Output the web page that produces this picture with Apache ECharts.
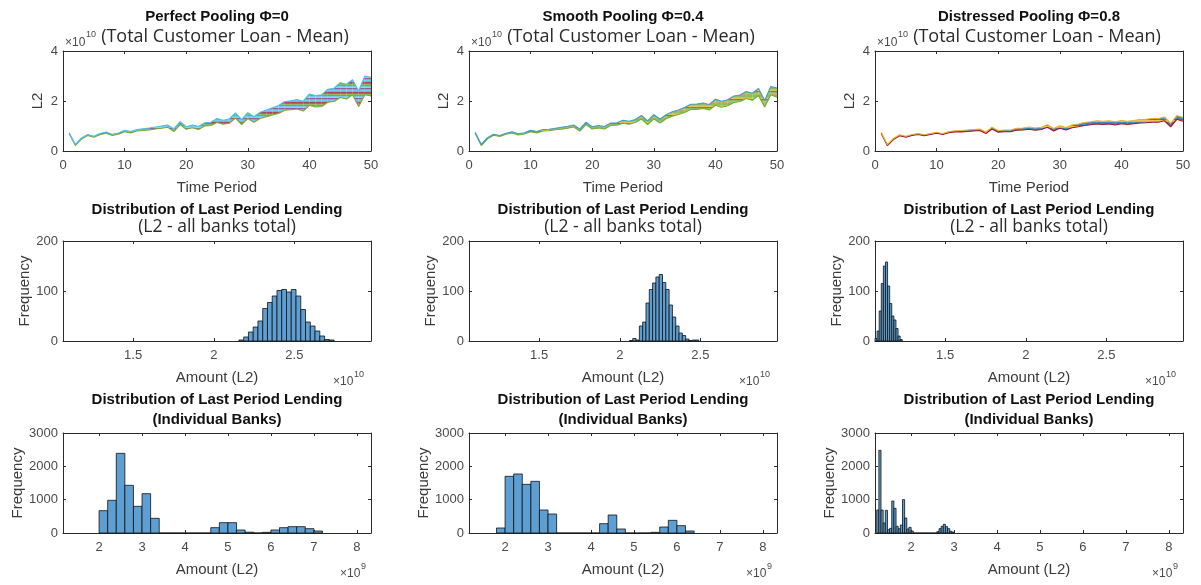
<!DOCTYPE html>
<html>
<head>
<meta charset="utf-8">
<script src="https://cdn.jsdelivr.net/npm/echarts@6/dist/echarts.min.js"></script>
<style>
  html, body { margin: 0; background: #fff; }
  #chart { width: 1201px; height: 585px; }
</style>
</head>
<body>
<div id="chart"></div>
<script>
// time periods of the simulation
const periods = [1, 2, 3, 4, 5, 6, 7, 8, 9, 10, 11, 12, 13, 14, 15, 16, 17, 18, 19, 20,
  21, 22, 23, 24, 25, 26, 27, 28, 29, 30, 31, 32, 33, 34, 35, 36, 37, 38, 39, 40,
  41, 42, 43, 44, 45, 46, 47, 48, 49, 50];

// upper / lower edge of the bundle of simulated paths (x 1e10)
const perfectUpper = [0.73, 0.26, 0.52, 0.66, 0.59, 0.70, 0.76, 0.67, 0.72, 0.83,
  0.78, 0.86, 0.89, 0.92, 0.96, 1.00, 1.04, 0.88, 1.17, 0.97,
  1.04, 0.98, 1.13, 1.15, 1.30, 1.23, 1.28, 1.52, 1.25, 1.53,
  1.37, 1.55, 1.64, 1.73, 1.82, 1.98, 2.01, 2.06, 1.99, 2.28,
  2.22, 2.25, 2.47, 2.51, 2.73, 2.67, 2.85, 2.40, 3.00, 2.95];
const perfectLower = [0.70, 0.22, 0.48, 0.62, 0.55, 0.65, 0.71, 0.62, 0.67, 0.77,
  0.72, 0.80, 0.82, 0.84, 0.88, 0.91, 0.95, 0.78, 1.06, 0.87,
  0.93, 0.86, 1.00, 1.02, 1.14, 1.07, 1.11, 1.32, 1.06, 1.30,
  1.15, 1.30, 1.37, 1.44, 1.50, 1.63, 1.65, 1.68, 1.60, 1.83,
  1.76, 1.78, 1.95, 1.98, 2.14, 2.08, 2.25, 1.78, 2.25, 2.20];
const smoothUpper = [0.75, 0.26, 0.53, 0.67, 0.62, 0.71, 0.77, 0.69, 0.73, 0.83,
  0.78, 0.86, 0.87, 0.91, 0.95, 0.99, 1.04, 0.88, 1.15, 0.97,
  1.02, 0.98, 1.12, 1.13, 1.23, 1.19, 1.26, 1.42, 1.20, 1.45,
  1.28, 1.45, 1.57, 1.64, 1.74, 1.87, 1.88, 1.92, 1.86, 2.07,
  1.99, 2.05, 2.20, 2.24, 2.38, 2.31, 2.50, 2.02, 2.58, 2.52];
const smoothLower = [0.71, 0.22, 0.49, 0.63, 0.58, 0.67, 0.72, 0.64, 0.68, 0.77,
  0.72, 0.80, 0.81, 0.85, 0.87, 0.91, 0.96, 0.80, 1.06, 0.88,
  0.92, 0.88, 1.02, 1.03, 1.11, 1.07, 1.14, 1.28, 1.06, 1.29,
  1.12, 1.29, 1.39, 1.46, 1.54, 1.66, 1.66, 1.70, 1.64, 1.83,
  1.75, 1.81, 1.94, 1.98, 2.10, 2.03, 2.22, 1.76, 2.25, 2.15];
const distressUpper = [0.75, 0.26, 0.50, 0.65, 0.59, 0.66, 0.70, 0.65, 0.70, 0.75,
  0.70, 0.78, 0.81, 0.82, 0.84, 0.86, 0.88, 0.76, 0.95, 0.82,
  0.84, 0.84, 0.91, 0.92, 0.96, 0.92, 0.95, 1.05, 0.90, 1.01,
  0.94, 1.04, 1.08, 1.14, 1.17, 1.21, 1.19, 1.21, 1.17, 1.22,
  1.19, 1.22, 1.26, 1.27, 1.30, 1.30, 1.36, 1.11, 1.42, 1.34];
const distressLower = [0.71, 0.22, 0.46, 0.61, 0.55, 0.62, 0.66, 0.61, 0.66, 0.71,
  0.66, 0.73, 0.76, 0.76, 0.78, 0.80, 0.82, 0.70, 0.88, 0.75,
  0.77, 0.77, 0.83, 0.84, 0.87, 0.83, 0.86, 0.95, 0.80, 0.91,
  0.84, 0.93, 0.97, 1.02, 1.05, 1.08, 1.06, 1.08, 1.04, 1.09,
  1.06, 1.09, 1.12, 1.13, 1.15, 1.15, 1.21, 0.97, 1.27, 1.19];

// last period lending, all banks total (x 1e10): first bin edge, bin width, counts
const totalBinStart = [2.156, 2.06, 1.065];
const totalBinWidth = [0.0295, 0.0205, 0.013];
const totalCountsPerfect = [2, 8, 18, 28, 40, 65, 77, 90, 101, 103, 98, 103, 90, 63, 38, 30, 20, 10, 3, 2];
const totalCountsSmooth = [1, 5, 2, 30, 38, 76, 103, 116, 128, 133, 117, 103, 72, 48, 30, 16, 11, 4, 1, 2, 2];
const totalCountsDistress = [5, 20, 60, 115, 150, 158, 110, 75, 50, 42, 25, 10, 3];

// last period lending, individual banks (x 1e9)
const bankBinStart = [2.0, 1.8, 1.2];
const bankBinWidth = [0.2, 0.2, 0.05];
const bankCountsPerfect = [670, 980, 2390, 1430, 800, 1180, 440, 0, 0, 0, 0, 0, 0,
  160, 310, 310, 90, 25, 0, 20, 90, 160, 190, 190, 130, 60];
const bankCountsSmooth = [150, 1700, 1770, 1460, 1550, 690, 570, 0, 0, 0, 0, 0,
  280, 540, 120, 0, 0, 0, 20, 180, 380, 220, 60];
const bankCountsDistress = [690, 2480, 690, 300, 680, 100, 140, 960, 740, 200, 130, 240,
  1000, 450, 120, 170, 60, 0, 0, 0, 0, 0, 0, 0, 0, 0, 0, 0,
  40, 130, 200, 260, 190, 130, 50, 25];

// tick labels
const timeTicks = [0, 10, 20, 30, 40, 50];
const totalTicks = [1.5, 2, 2.5];
const bankTicks = [2, 3, 4, 5, 6, 7, 8];

const titles = ['Perfect Pooling \u03A6=0', 'Smooth Pooling \u03A6=0.4', 'Distressed Pooling \u03A6=0.8'];

// ---------------------------------------------------------------
const chart = echarts.init(document.getElementById('chart'));

const colLeft = [63, 469, 875];
const rowTop = [51, 241, 433];
const plotW = 308;
const plotH = 100;
const axisColor = '#2b2b2b';
const tickColor = '#4a4a4a';
const font = 'Liberation Sans, Arial, sans-serif';
const subFont = '"Open Sans", sans-serif';

function stripes(colors) {
  const cv = document.createElement('canvas');
  cv.width = 4;
  cv.height = colors.length;
  const ctx = cv.getContext('2d');
  colors.forEach((c, i) => {
    ctx.fillStyle = c;
    ctx.fillRect(0, i, 4, 1);
  });
  return cv;
}

const grids = [];
const xAxes = [];
const yAxes = [];
const series = [];
const graphics = [];

function addPanel(r, c, xcfg, ycfg) {
  const g = grids.length;
  grids.push({ left: colLeft[c], top: rowTop[r], width: plotW, height: plotH, outerBoundsMode: 'none' });
  const tick = { show: true, inside: true, length: 3, lineStyle: { color: axisColor, width: 1 } };
  const line = { show: true, onZero: false, lineStyle: { color: axisColor, width: 1 } };
  const label = { color: tickColor, fontSize: 13, fontFamily: font, formatter: (v) => String(v) };
  const xBase = { type: 'value', gridIndex: g, min: xcfg.min, max: xcfg.max, splitLine: { show: false }, axisLine: line };
  if (xcfg.interval) xBase.interval = xcfg.interval;
  const xTick = Object.assign({}, tick, xcfg.custom ? { customValues: xcfg.custom } : {});
  xAxes.push(Object.assign({}, xBase, {
    position: 'bottom', axisTick: xTick,
    axisLabel: Object.assign({}, label, { margin: 8 }, xcfg.custom ? { customValues: xcfg.custom } : {}),
    name: xcfg.name, nameLocation: 'middle', nameGap: xcfg.nameGap,
    nameTextStyle: { color: '#3a3a3a', fontSize: 15, fontFamily: font }
  }));
  xAxes.push(Object.assign({}, xBase, { position: 'top', axisTick: xTick, axisLabel: { show: false } }));
  const yBase = { type: 'value', gridIndex: g, min: ycfg.min, max: ycfg.max, interval: ycfg.interval,
    splitLine: { show: false }, axisLine: line, axisTick: tick };
  yAxes.push(Object.assign({}, yBase, {
    position: 'left', axisLabel: Object.assign({}, label, { margin: 5 }),
    name: ycfg.name, nameLocation: 'middle', nameGap: ycfg.nameGap,
    nameTextStyle: { color: '#3a3a3a', fontSize: 15, fontFamily: font }
  }));
  yAxes.push(Object.assign({}, yBase, { position: 'right', axisLabel: { show: false } }));
  return g;
}

function pairs(xs, ys) {
  return xs.map((x, i) => [x, ys[i]]);
}

function histItem(params, api) {
  const p0 = api.coord([api.value(0), 0]);
  const p1 = api.coord([api.value(1), api.value(2)]);
  return {
    type: 'rect',
    shape: { x: p0[0], y: p1[1], width: p1[0] - p0[0], height: p0[1] - p1[1] },
    style: { fill: '#5e9fd3', stroke: '#111', lineWidth: 0.8 }
  };
}

function histData(start, width, counts) {
  return counts.map((n, i) => [start + i * width, start + (i + 1) * width, n]);
}

// one quad of the path bundle between consecutive periods
function bandItem(pattern) {
  return function (params, api) {
    const a = api.coord([api.value(0), api.value(1)]);
    const b = api.coord([api.value(3), api.value(4)]);
    const cc = api.coord([api.value(3), api.value(5)]);
    const d = api.coord([api.value(0), api.value(2)]);
    return {
      type: 'polygon',
      shape: { points: [a, b, cc, d] },
      style: { fill: pattern, opacity: 0.8, stroke: null }
    };
  };
}

function bandData(ts, lo, up) {
  const out = [];
  for (let i = 0; i < ts.length - 1; i++) {
    out.push([ts[i], lo[i], up[i], ts[i + 1], lo[i + 1], up[i + 1]]);
  }
  return out;
}

function addText(x, y, text, opts) {
  graphics.push({
    type: 'text', x: x, y: y, silent: true,
    style: Object.assign({ text: text, fill: '#111', font: '13px ' + font, align: 'center', verticalAlign: 'middle' }, opts || {})
  });
}

// top row: total customer loan paths
const uppers = [perfectUpper, smoothUpper, distressUpper];
const lowers = [perfectLower, smoothLower, distressLower];
const bandColors = [
  ['#4DBEEE', '#77AC30', '#A2142F', '#0072BD', '#77AC30', '#D95319', '#4DBEEE', '#EDB120', '#7E2F8E', '#77AC30'],
  ['#77AC30', '#4DBEEE', '#EDB120', '#0072BD', '#77AC30', '#4DBEEE', '#A0A040', '#77AC30'],
  ['#EDB120', '#4DBEEE', '#0072BD', '#7E2F8E', '#0072BD', '#A2142F']
];
const edgeColors = [['#4DBEEE', '#77AC30'], ['#3d9fc9', '#77AC30'], ['#EDB120', '#A2142F']];

for (let c = 0; c < 3; c++) {
  const g = addPanel(0, c,
    { min: 0, max: 50, interval: 10, name: 'Time Period', nameGap: 29 },
    { min: 0, max: 4, interval: 2, name: 'L2', nameGap: 18 });
  series.push({
    type: 'custom', xAxisIndex: 2 * g, yAxisIndex: 2 * g, silent: true,
    renderItem: bandItem({ image: stripes(bandColors[c]), repeat: 'repeat' }),
    encode: { x: [0, 3], y: [1, 2, 4, 5] },
    data: bandData(periods, lowers[c], uppers[c])
  });
  const common = { type: 'line', xAxisIndex: 2 * g, yAxisIndex: 2 * g, symbol: 'none', silent: true };
  series.push(Object.assign({}, common, {
    data: pairs(periods, lowers[c]), lineStyle: { color: edgeColors[c][1], width: 1.2 }
  }));
  series.push(Object.assign({}, common, {
    data: pairs(periods, uppers[c]), lineStyle: { color: edgeColors[c][0], width: 1.2 }
  }));

  const cx = colLeft[c] + plotW / 2;
  addText(cx, 17, titles[c], { font: 'bold 15px ' + font });
  addText(cx + 8, 37, '(Total Customer Loan - Mean)', { font: '18px ' + subFont, fill: '#2a2a2a' });
  addText(colLeft[c] + 2, 43, '\u00D710', { align: 'left', font: '12px ' + font, fill: '#4a4a4a' });
  addText(colLeft[c] + 23, 35, '10', { align: 'left', font: '9px ' + font, fill: '#4a4a4a' });
}

// middle row: all banks total
const totalCounts = [totalCountsPerfect, totalCountsSmooth, totalCountsDistress];
for (let c = 0; c < 3; c++) {
  const g = addPanel(1, c,
    { min: 1.065, max: 2.975, custom: totalTicks, name: 'Amount (L2)', nameGap: 29 },
    { min: 0, max: 200, interval: 100, name: 'Frequency', nameGap: 31 });
  series.push({
    type: 'custom', xAxisIndex: 2 * g, yAxisIndex: 2 * g, silent: true,
    renderItem: histItem, encode: { x: [0, 1], y: 2 },
    data: histData(totalBinStart[c], totalBinWidth[c], totalCounts[c])
  });
  const cx = colLeft[c] + plotW / 2;
  addText(cx, 210, 'Distribution of Last Period Lending', { font: 'bold 15px ' + font });
  addText(cx, 227, '(L2 - all banks total)', { font: '17.5px ' + subFont, fill: '#2a2a2a' });
  const right = colLeft[c] + plotW;
  addText(right - 38, 382, '\u00D710', { align: 'left', font: '12px ' + font, fill: '#4a4a4a' });
  addText(right - 17, 375, '10', { align: 'left', font: '9px ' + font, fill: '#4a4a4a' });
}

// bottom row: individual banks
const bankCounts = [bankCountsPerfect, bankCountsSmooth, bankCountsDistress];
for (let c = 0; c < 3; c++) {
  const g = addPanel(2, c,
    { min: 1.16, max: 8.33, custom: bankTicks, name: 'Amount (L2)', nameGap: 29 },
    { min: 0, max: 3000, interval: 1000, name: 'Frequency', nameGap: 31 });
  series.push({
    type: 'custom', xAxisIndex: 2 * g, yAxisIndex: 2 * g, silent: true,
    renderItem: histItem, encode: { x: [0, 1], y: 2 },
    data: histData(bankBinStart[c], bankBinWidth[c], bankCounts[c])
  });
  const cx = colLeft[c] + plotW / 2;
  addText(cx, 400, 'Distribution of Last Period Lending', { font: 'bold 15px ' + font });
  addText(cx, 420, '(Individual Banks)', { font: 'bold 15px ' + font });
  const right = colLeft[c] + plotW;
  addText(right - 31, 574, '\u00D710', { align: 'left', font: '12px ' + font, fill: '#4a4a4a' });
  addText(right - 10, 567, '9', { align: 'left', font: '9px ' + font, fill: '#4a4a4a' });
}

chart.setOption({
  animation: false,
  backgroundColor: '#fff',
  grid: grids,
  xAxis: xAxes,
  yAxis: yAxes,
  series: series,
  graphic: graphics
});
</script>
</body>
</html>
